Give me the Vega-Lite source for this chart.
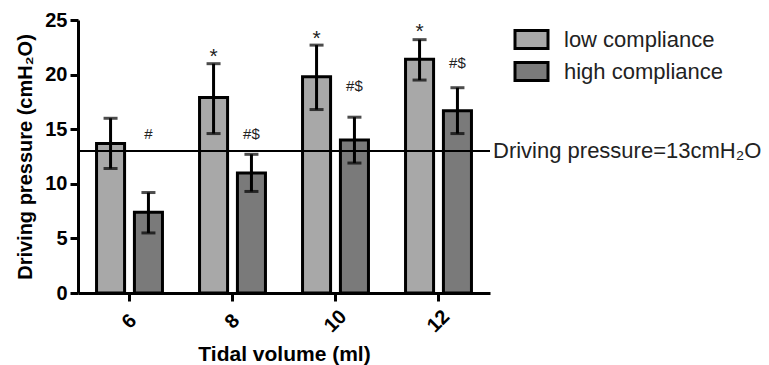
{
  "$schema": "https://vega.github.io/schema/vega-lite/v6.json",
  "autosize": {"type": "none"},
  "width": 412,
  "height": 273,
  "padding": {"left": 78, "top": 20, "right": 279, "bottom": 72},
  "background": "white",
  "config": {
    "view": {"stroke": null},
    "font": "Liberation Sans",
    "axis": {"grid": false, "domainColor": "black", "domainWidth": 3, "tickColor": "black", "tickWidth": 3, "tickSize": 8, "labelColor": "black", "titleColor": "black", "labelFont": "Liberation Sans", "titleFont": "Liberation Sans", "labelFontWeight": "bold", "titleFontWeight": "bold", "labelFontSize": 20, "titleFontSize": 20}
  },
  "datasets": {
    "bars": [
      {"tv": "6", "group": "low compliance", "mean": 13.7, "lo": 11.4, "hi": 16.0},
      {"tv": "6", "group": "high compliance", "mean": 7.4, "lo": 5.5, "hi": 9.2},
      {"tv": "8", "group": "low compliance", "mean": 17.9, "lo": 14.6, "hi": 21.0},
      {"tv": "8", "group": "high compliance", "mean": 11.0, "lo": 9.3, "hi": 12.7},
      {"tv": "10", "group": "low compliance", "mean": 19.8, "lo": 16.8, "hi": 22.7},
      {"tv": "10", "group": "high compliance", "mean": 14.0, "lo": 11.9, "hi": 16.1},
      {"tv": "12", "group": "low compliance", "mean": 21.4, "lo": 19.5, "hi": 23.2},
      {"tv": "12", "group": "high compliance", "mean": 16.7, "lo": 14.6, "hi": 18.8}
    ],
    "notes": [
      {"tv": "8", "group": "low compliance", "label": "*", "at": 21.6},
      {"tv": "10", "group": "low compliance", "label": "*", "at": 23.3},
      {"tv": "12", "group": "low compliance", "label": "*", "at": 23.9},
      {"tv": "6", "group": "high compliance", "label": "#", "at": 14.6},
      {"tv": "8", "group": "high compliance", "label": "#$", "at": 14.6},
      {"tv": "10", "group": "high compliance", "label": "#$", "at": 19.0},
      {"tv": "12", "group": "high compliance", "label": "#$", "at": 21.1}
    ],
    "ref": [
      {"level": 13, "label": "Driving pressure=13cmH₂O"}
    ]
  },
  "layer": [
    {
      "data": {"name": "bars"},
      "mark": {"type": "bar", "stroke": "black", "strokeWidth": 3},
      "encoding": {
        "x": {"field": "tv", "type": "nominal", "sort": ["6", "8", "10", "12"],
              "scale": {"paddingInner": 0.36, "paddingOuter": 0.18},
              "axis": {"title": "Tidal volume (ml)", "titleFontSize": 21, "labelAngle": -45, "labelAlign": "center", "labelBaseline": "middle", "labelPadding": 20, "titleBaseline": "alphabetic", "titleY": 67}},
        "xOffset": {"field": "group", "type": "nominal", "sort": ["low compliance", "high compliance"], "scale": {"paddingInner": 0.26}},
        "y": {"field": "mean", "type": "quantitative",
              "scale": {"domain": [0, 25], "nice": false},
              "axis": {"title": "Driving pressure (cmH₂O)", "values": [0, 5, 10, 15, 20, 25], "labelPadding": 3, "titlePadding": 9}},
        "fill": {"field": "group", "type": "nominal", "sort": ["low compliance", "high compliance"],
                 "scale": {"range": ["#a8a8a8", "#7a7a7a"]},
                 "legend": {"title": null, "orient": "none", "legendX": 442, "legendY": 8,
                            "symbolType": "M-1.65,-0.9H1.65V0.9H-1.65Z", "symbolSize": 400,
                            "symbolStrokeColor": "black", "symbolStrokeWidth": 3,
                            "labelFontSize": 22, "labelFont": "Liberation Sans", "labelColor": "#222",
                            "labelOffset": 21, "rowPadding": 1, "padding": 0}}
      }
    },
    {
      "data": {"name": "bars"},
      "mark": {"type": "rule", "color": "black", "strokeWidth": 3},
      "encoding": {
        "x": {"field": "tv", "type": "nominal", "sort": ["6", "8", "10", "12"]},
        "xOffset": {"field": "group", "type": "nominal", "sort": ["low compliance", "high compliance"]},
        "y": {"field": "lo", "type": "quantitative"},
        "y2": {"field": "hi"}
      }
    },
    {
      "data": {"name": "bars"},
      "mark": {"type": "tick", "orient": "horizontal", "color": "black", "size": 14, "thickness": 3},
      "encoding": {
        "x": {"field": "tv", "type": "nominal", "sort": ["6", "8", "10", "12"]},
        "xOffset": {"field": "group", "type": "nominal", "sort": ["low compliance", "high compliance"]},
        "y": {"field": "hi", "type": "quantitative"}
      }
    },
    {
      "data": {"name": "bars"},
      "mark": {"type": "tick", "orient": "horizontal", "color": "black", "size": 14, "thickness": 3},
      "encoding": {
        "x": {"field": "tv", "type": "nominal", "sort": ["6", "8", "10", "12"]},
        "xOffset": {"field": "group", "type": "nominal", "sort": ["low compliance", "high compliance"]},
        "y": {"field": "lo", "type": "quantitative"}
      }
    },
    {
      "data": {"name": "notes"},
      "mark": {"type": "text", "color": "#222", "baseline": "middle", "align": "center"},
      "encoding": {
        "x": {"field": "tv", "type": "nominal", "sort": ["6", "8", "10", "12"]},
        "xOffset": {"field": "group", "type": "nominal", "sort": ["low compliance", "high compliance"]},
        "y": {"field": "at", "type": "quantitative"},
        "text": {"field": "label"},
        "size": {"condition": {"test": "datum.label === '*'", "value": 21}, "value": 15}
      }
    },
    {
      "data": {"name": "ref"},
      "mark": {"type": "rule", "color": "black", "strokeWidth": 2},
      "encoding": {"y": {"field": "level", "type": "quantitative"}}
    },
    {
      "data": {"name": "ref"},
      "mark": {"type": "text", "align": "left", "baseline": "middle", "dx": 3, "fontSize": 22, "color": "#222"},
      "encoding": {"y": {"field": "level", "type": "quantitative"}, "x": {"value": "width"}, "text": {"field": "label"}}
    }
  ]
}
